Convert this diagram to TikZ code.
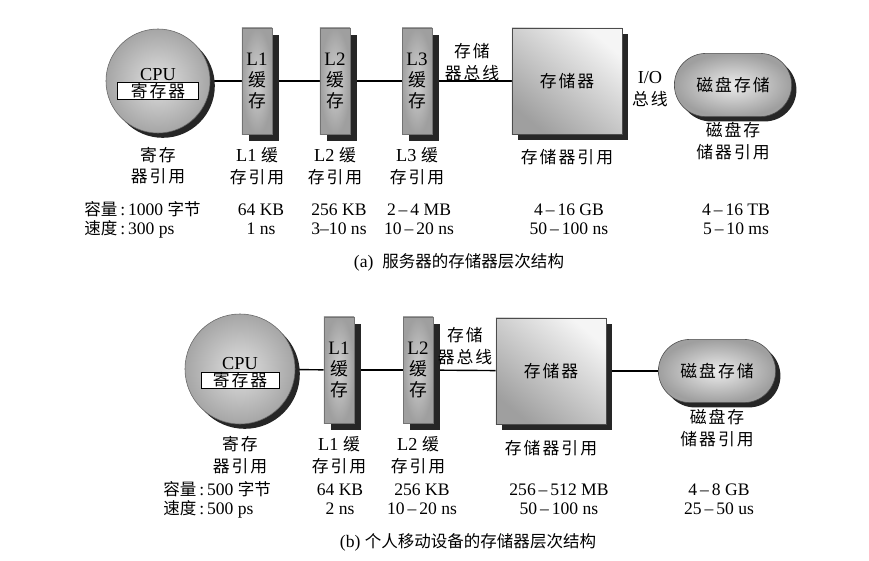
\documentclass[tikz,border=0pt]{standalone}
\usepackage{fontspec}
\setmainfont{Liberation Serif}
\newfontfamily\cjk[Scale=0.94]{Noto Sans CJK SC}
\newfontfamily\cjkwide[Scale=0.92,LetterSpace=12]{Noto Sans CJK SC}
\usetikzlibrary{positioning,shadows,shapes.misc,backgrounds}
\newcommand{\zh}[1]{{\cjk #1}}
\newcommand{\zhw}[1]{{\cjkwide #1}}

\begin{document}
\begin{tikzpicture}[
    x=0.025cm, y=-0.025cm,
    font=\fontsize{13}{14}\selectfont,
    cpuball/.style={circle, minimum size=#1, inner sep=0pt, draw=black!60, shading=radial, inner color=gray!25, outer color=gray!70, drop shadow={shadow xshift=0.12cm, shadow yshift=-0.12cm, fill=black!85, opacity=1}},
    regbox/.style={rectangle, draw=black, fill=white, minimum width=2.03cm, minimum height=0.42cm, inner sep=0pt},
    cachebox/.style={rectangle, minimum width=0.75cm, minimum height=2.65cm, inner sep=0pt, align=center, draw=black!55, shading=radial, inner color=gray!35, outer color=gray!75, drop shadow={shadow xshift=0.18cm, shadow yshift=-0.17cm, fill=black!85, opacity=1}, font=\fontsize{13.5}{15}\selectfont},
    membox/.style={rectangle, minimum width=2.75cm, minimum height=2.65cm, inner sep=0pt, draw=black!70, top color=gray!8, bottom color=gray!75, shading angle=-40, drop shadow={shadow xshift=0.15cm, shadow yshift=-0.15cm, fill=black!85, opacity=1}},
    diskpill/.style={rounded rectangle, minimum width=2.93cm, minimum height=1.58cm, inner sep=0pt, draw=black!70, shading=radial, inner color=gray!15, outer color=gray!75, drop shadow={shadow xshift=0.12cm, shadow yshift=-0.12cm, fill=black!85, opacity=1}},
    lbl/.style={align=center, inner sep=0pt, font=\fontsize{13}{15.5}\selectfont},
    spec/.style={align=center, inner sep=0pt, font=\fontsize{12.5}{13.5}\selectfont},
    bus/.style={line width=1pt, draw=black}
]
\useasboundingbox (0,0) rectangle (869,560);

% (a) server
\node[cpuball=2.6cm] (cpuA) at (158,81) {};
\node[regbox] (regA) at ([yshift=-0.25cm]cpuA.center) {\zhw{寄存器}};
\node[above=1pt of regA, inner sep=0pt] (cpuTxtA) {CPU};
\node[cachebox] (l1A) at (257,81) {L1\\\zh{缓}\\\zh{存}};
\node[cachebox] (l2A) at (335,81) {L2\\\zh{缓}\\\zh{存}};
\node[cachebox] (l3A) at (417,81) {L3\\\zh{缓}\\\zh{存}};
\node[membox] (memA) at (567,81) {\zhw{存储器}};
\node[diskpill] (diskA) at (733,85) {\zhw{磁盘存储}};
\node[lbl] (busA) at (472,62) {\zhw{存储}\\\zhw{器总线}};
\node[lbl] (ioA) at (650,89) {I/O\\\zhw{总线}};
\begin{scope}[on background layer]
\draw[bus] (cpuA) -- (l1A);
\draw[bus] (l1A) -- (l2A);
\draw[bus] (l2A) -- (l3A);
\draw[bus] (l3A) -- (memA);
\end{scope}

\node[lbl, below=0.33cm of cpuA] (refRegA) {\zhw{寄存}\\\zhw{器引用}};
\node[lbl, below=0.33cm of l1A] (refL1A) {L1 \zhw{缓}\\\zhw{存引用}};
\node[lbl, below=0.33cm of l2A] (refL2A) {L2 \zhw{缓}\\\zhw{存引用}};
\node[lbl, below=0.33cm of l3A] (refL3A) {L3 \zhw{缓}\\\zhw{存引用}};
\node[lbl, below=0.36cm of memA] (refMemA) {\zhw{存储器引用}};
\node[lbl, below=0.12cm of diskA] (refDiskA) {\zhw{磁盘存}\\\zhw{储器引用}};

\node[spec, anchor=west, align=left] (regSpecA) at (84,219.5) {\zh{容量}\,:\,1000 \zh{字节}\\\zh{速度}\,:\,300 ps};
\node[spec] (l1SpecA) at (261,219.5) {64 KB\\1 ns};
\node[spec] (l2SpecA) at (339,219.5) {256 KB\\3--10 ns};
\node[spec] (l3SpecA) at (419,219.5) {2\,--\,4 MB\\10\,--\,20 ns};
\node[spec] (memSpecA) at (569,219.5) {4\,--\,16 GB\\50\,--\,100 ns};
\node[spec] (diskSpecA) at (736,219.5) {4\,--\,16 TB\\5\,--\,10 ms};
\node[spec] (capA) at (459,262) {(a)\enspace\zh{服务器的存储器层次结构}};

% (b) personal mobile device
\node[cpuball=2.75cm] (cpuB) at (240,369) {};
\node[regbox, minimum width=1.95cm] (regB) at ([yshift=-0.28cm]cpuB.center) {\zhw{寄存器}};
\node[above=1pt of regB, inner sep=0pt] (cpuTxtB) {CPU};
\node[cachebox] (l1B) at (339,370) {L1\\\zh{缓}\\\zh{存}};
\node[cachebox] (l2B) at (418,370) {L2\\\zh{缓}\\\zh{存}};
\node[membox] (memB) at (551,371) {\zhw{存储器}};
\node[diskpill] (diskB) at (717,371) {\zhw{磁盘存储}};
\node[lbl] (busB) at (465,346) {\zhw{存储}\\\zhw{器总线}};
\begin{scope}[on background layer]
\draw[bus] (cpuB) -- (l1B);
\draw[bus] (l1B) -- (l2B);
\draw[bus] (l2B) -- (memB);
\draw[bus] (memB) -- (diskB);
\end{scope}

\node[lbl, below=0.3cm of cpuB] (refRegB) {\zhw{寄存}\\\zhw{器引用}};
\node[lbl, below=0.33cm of l1B] (refL1B) {L1 \zhw{缓}\\\zhw{存引用}};
\node[lbl, below=0.33cm of l2B] (refL2B) {L2 \zhw{缓}\\\zhw{存引用}};
\node[lbl, below=0.4cm of memB] (refMemB) {\zhw{存储器引用}};
\node[lbl, below=0.15cm of diskB] (refDiskB) {\zhw{磁盘存}\\\zhw{储器引用}};

\node[spec, anchor=west, align=left] (regSpecB) at (163,499.5) {\zh{容量}\,:\,500 \zh{字节}\\\zh{速度}\,:\,500 ps};
\node[spec] (l1SpecB) at (340,499.5) {64 KB\\2 ns};
\node[spec] (l2SpecB) at (422,499.5) {256 KB\\10\,--\,20 ns};
\node[spec] (memSpecB) at (559,499.5) {256\,--\,512 MB\\50\,--\,100 ns};
\node[spec] (diskSpecB) at (719,499.5) {4\,--\,8 GB\\25\,--\,50 us};
\node[spec] (capB) at (468,542) {(b) \zh{个人移动设备的存储器层次结构}};
\end{tikzpicture}
\end{document}
